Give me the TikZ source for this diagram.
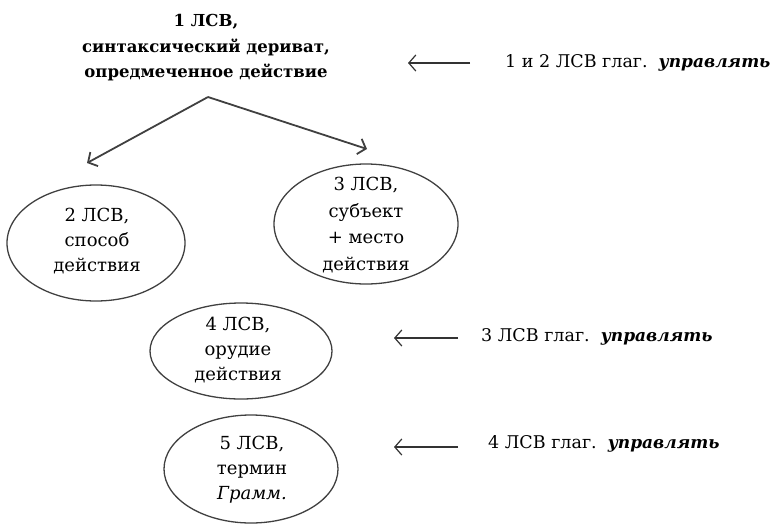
\documentclass[tikz,border=0pt]{standalone}
\usepackage{fontspec}
\setmainfont{DejaVu Serif}
\usetikzlibrary{shapes.geometric,arrows.meta}
\tikzset{
  oval/.style={ellipse, draw=black!75, line width=1.3pt, inner sep=0pt},
  ovaltext/.style={align=center, inner sep=0pt, font=\fontsize{18}{25}\selectfont},
  mainarrow/.style={draw=black!75, line width=1.8pt, -{Straight Barb[length=7pt,width=16pt,line width=1.8pt]}},
  sidearrow/.style={draw=black!80, line width=1.2pt, -{Straight Barb[length=7pt,width=16pt,line width=1.2pt]}},
  sidetext/.style={anchor=west, font=\fontsize{17.5}{22}\selectfont, inner sep=0pt}
}
\newcommand{\verbword}{{\fontsize{17}{22}\selectfont\textbf{\textit{управлять}}}}
\begin{document}
\begin{tikzpicture}[x=1pt,y=-1pt]
\useasboundingbox (0,0) rectangle (773,525);
\node[align=center, font=\fontsize{16.5}{25.5}\selectfont\bfseries, inner sep=0pt] (top) at (206,48)
  {1 ЛСВ,\\синтаксический дериват,\\опредмеченное действие};
\coordinate (apex) at (208,97);
\coordinate (tipL) at (87,163);
\coordinate (tipR) at (367,149);
\draw[mainarrow] (apex) -- (tipL);
\draw[mainarrow] (apex) -- (tipR);

\node[oval, minimum width=178, minimum height=116] (e2) at (96,243) {};
\node[ovaltext] (e2t) at (97,241) {2 ЛСВ,\\способ\\действия};
\node[oval, minimum width=184, minimum height=120] (e3) at (366,224) {};
\node[ovaltext, font=\fontsize{18}{26.5}\selectfont] (e3t) at (366,225) {3 ЛСВ,\\субъект\\+ место\\действия};
\node[oval, minimum width=182, minimum height=96] (e4) at (241,351) {};
\node[ovaltext] (e4t) at (238,350) {4 ЛСВ,\\орудие\\действия};
\node[oval, minimum width=174, minimum height=108] (e5) at (251,469) {};
\node[ovaltext] (e5t) at (252,470) {5 ЛСВ,\\термин\\\textit{Грамм.}};

\node[sidetext] (r1) at (505,63) {1 и 2 ЛСВ глаг.\hspace{11pt}\verbword};
\node[sidetext] (r2) at (481,337) {3 ЛСВ глаг.\hspace{11pt}\verbword};
\node[sidetext] (r3) at (488,444) {4 ЛСВ глаг.\hspace{11pt}\verbword};

\coordinate (a1s) at (470,63);  \coordinate (a1e) at (408,63);
\coordinate (a2s) at (458,338); \coordinate (a2e) at (394,338);
\coordinate (a3s) at (458,447); \coordinate (a3e) at (394,447);
\draw[sidearrow] (a1s) -- (a1e);
\draw[sidearrow] (a2s) -- (a2e);
\draw[sidearrow] (a3s) -- (a3e);
\end{tikzpicture}
\end{document}
